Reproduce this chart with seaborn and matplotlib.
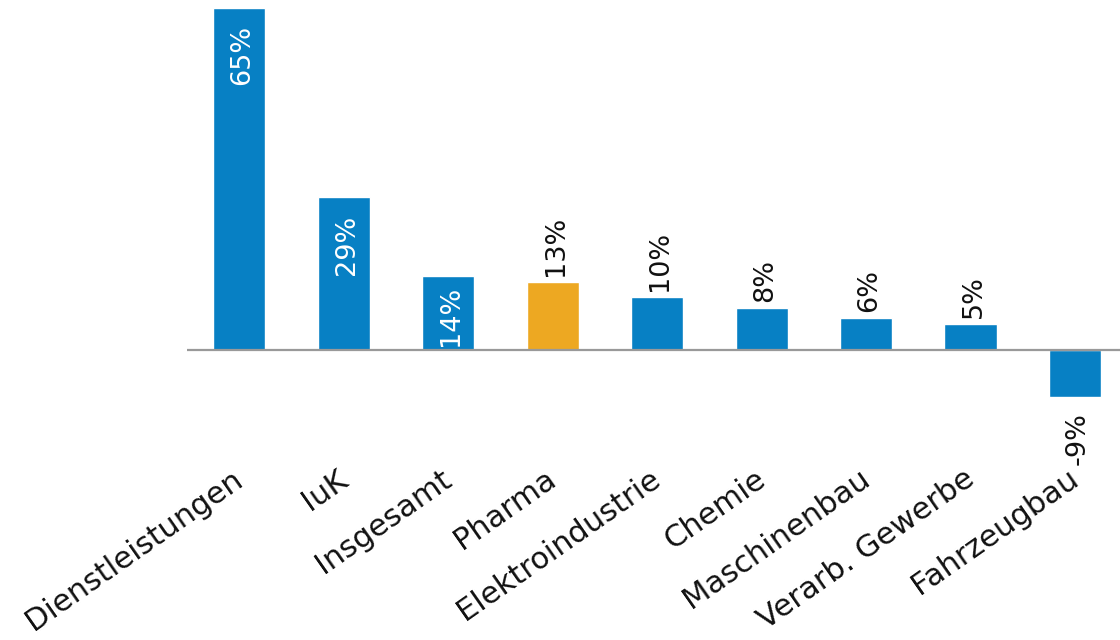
import matplotlib
matplotlib.use("Agg")
import matplotlib.pyplot as plt
import matplotlib.transforms as mtransforms
import seaborn as sns
import pandas as pd

categories = ["Dienstleistungen", "IuK", "Insgesamt", "Pharma", "Elektroindustrie",
              "Chemie", "Maschinenbau", "Verarb. Gewerbe", "Fahrzeugbau"]
values = [65, 29, 14, 13, 10, 8, 6, 5, -9]
value_labels = ["65%", "29%", "14%", "13%", "10%", "8%", "6%", "5%", "-9%"]
highlight = "Pharma"

BLUE = "#0780C4"
ORANGE = "#EDA822"

sns.set_theme(style="white")
plt.rcParams["font.family"] = ["DejaVu Sans"]

df = pd.DataFrame({"cat": categories, "val": values})
palette = {c: (ORANGE if c == highlight else BLUE) for c in categories}

fig = plt.figure(figsize=(11.2, 6.4), dpi=100)
ax = fig.add_axes([187 / 1120, 1 - 470 / 640, 1 - 187 / 1120, (470 - 8) / 640])

sns.barplot(data=df, x="cat", y="val", hue="cat", palette=palette, dodge=False,
            width=0.5, legend=False, ax=ax, saturation=1)

ax.set_ylim(-22.8, 65)
ax.set_xlim(-0.5, 8.43)
ax.axhline(0, color="#999999", lw=1.6, zorder=5)

for s in ax.spines.values():
    s.set_visible(False)
ax.set_yticks([])
ax.set_xlabel("")
ax.set_ylabel("")
ax.tick_params(axis="x", length=0, pad=0)
ax.set_xticks(range(len(categories)))
ax.set_xticklabels(categories, rotation=35, ha="right", fontsize=22, color="#111111")
shift = mtransforms.ScaledTranslation(9 / 100, 6 / 100, fig.dpi_scale_trans)
for t in ax.get_xticklabels():
    t.set_transform(t.get_transform() + shift)

for i, (v, lab) in enumerate(zip(values, value_labels)):
    if v >= 14:
        off = -17 if v > 20 else -9
        ax.annotate(lab, (i, v), xytext=(3, off), textcoords="offset pixels",
                    rotation=90, ha="center", va="top", fontsize=19.5, color="white")
    elif v >= 0:
        ax.annotate(lab, (i, v), xytext=(3, 6), textcoords="offset pixels",
                    rotation=90, ha="center", va="bottom", fontsize=19.5, color="#111111")
    else:
        ax.annotate(lab, (i, v), xytext=(3, -15), textcoords="offset pixels",
                    rotation=90, ha="center", va="top", fontsize=19.5, color="#111111")

fig.savefig("out.png", dpi=100)
